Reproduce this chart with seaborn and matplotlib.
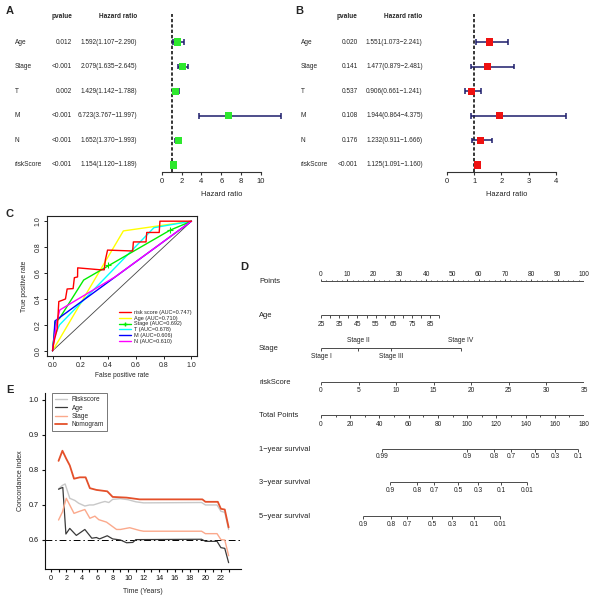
import numpy as np
import pandas as pd
import matplotlib
matplotlib.use("Agg")
import matplotlib.pyplot as plt
from matplotlib.lines import Line2D
from matplotlib.transforms import blended_transform_factory
import seaborn as sns

# ---------------- data ----------------
variables = ["Age", "Stage", "T", "M", "N", "riskScore"]

uni_pvalue = ["0.012", "<0.001", "0.002", "<0.001", "<0.001", "<0.001"]
uni_hr = [1.592, 2.079, 1.429, 6.723, 1.652, 1.154]
uni_low = [1.107, 1.635, 1.142, 3.767, 1.370, 1.120]
uni_high = [2.290, 2.645, 1.788, 11.997, 1.993, 1.189]
uni_ticks = [0, 2, 4, 6, 8, 10]

multi_pvalue = ["0.020", "0.141", "0.537", "0.108", "0.176", "<0.001"]
multi_hr = [1.551, 1.477, 0.906, 1.944, 1.232, 1.125]
multi_low = [1.073, 0.879, 0.661, 0.864, 0.911, 1.091]
multi_high = [2.241, 2.481, 1.241, 4.375, 1.666, 1.160]
multi_ticks = [0, 1, 2, 3, 4]

roc_names = ["risk score", "Age", "Stage", "T", "M", "N"]
roc_auc = ["0.747", "0.710", "0.692", "0.678", "0.606", "0.610"]
risk_fpr = [0, 0.01, 0.034, 0.045, 0.07, 0.093, 0.105, 0.148, 0.157, 0.18, 0.181,
            0.344, 0.372, 0.38, 0.396, 0.577, 0.582, 0.673, 0.678, 0.768, 0.773, 1.0]
risk_tpr = [0, 0.07, 0.17, 0.38, 0.39, 0.40, 0.477, 0.48, 0.564, 0.57, 0.64,
            0.625, 0.625, 0.70, 0.777, 0.77, 0.84, 0.84, 0.913, 0.913, 1.0, 1.0]
age_fpr = [0, 0.51, 1.0]
age_tpr = [0, 0.925, 1.0]
stage_fpr = [0, 0.02, 0.05, 0.224, 0.845, 1.0]
stage_tpr = [0, 0.22, 0.25, 0.546, 0.93, 1.0]
stage_mark_fpr = [0.40, 0.845]
stage_mark_tpr = [0.66, 0.93]
t_fpr = [0, 0.01, 0.05, 0.73, 1.0]
t_tpr = [0, 0.10, 0.20, 0.95, 1.0]
m_fpr = [0, 0.01, 0.017, 1.0]
m_tpr = [0, 0.10, 0.23, 1.0]
n_fpr = [0, 0.01, 0.03, 0.052, 0.45, 1.0]
n_tpr = [0, 0.08, 0.22, 0.315, 0.57, 1.0]

# nomogram
points_ticks = list(range(0, 101, 10))
age_ticks = [25, 35, 45, 55, 65, 75, 85]
age_range = [25, 90]
age_points_range = [0, 45]
stage_labels = ["Stage I", "Stage II", "Stage III", "Stage IV"]
stage_points = [0, 14.1, 26.6, 53.2]
risk_ticks = [0, 5, 10, 15, 20, 25, 30, 35]
risk_range = [0, 35]
risk_points_range = [0, 100]
total_ticks = list(range(0, 181, 20))
total_range = [0, 180]
surv1_labels = ["0.99", "0.9", "0.8", "0.7", "0.5", "0.3", "0.1"]
surv1_total = [41.7, 99.9, 118.4, 130.0, 146.5, 160.2, 175.9]
surv3_labels = ["0.9", "0.8", "0.7", "0.5", "0.3", "0.1", "0.01"]
surv3_total = [47.2, 65.7, 77.3, 93.8, 107.5, 123.2, 141.0]
surv5_labels = ["0.9", "0.8", "0.7", "0.5", "0.3", "0.1", "0.01"]
surv5_total = [28.7, 47.9, 58.9, 76.0, 89.7, 104.7, 122.5]

# C-index over time
nomo_t = [1.0, 1.5, 2.0, 2.45, 3.0, 3.75, 4.5, 5.05, 5.9, 7.3, 8.0, 9.8, 11.5, 19.6, 20.0, 21.6, 22.0, 22.5, 23.0]
nomo_c = [0.826, 0.855, 0.832, 0.813, 0.775, 0.779, 0.779, 0.748, 0.743, 0.739, 0.723, 0.721, 0.716, 0.716, 0.709, 0.709, 0.689, 0.687, 0.636]
risk_t = [1.0, 1.5, 1.85, 2.45, 3.1, 3.6, 4.4, 5.0, 5.5, 6.5, 7.0, 7.5, 8.0, 9.0, 10.0, 11.0, 12.0, 19.5, 20.0, 21.5, 22.0, 22.5, 23.0]
risk_c = [0.746, 0.756, 0.760, 0.719, 0.713, 0.705, 0.697, 0.700, 0.700, 0.707, 0.710, 0.707, 0.716, 0.718, 0.715, 0.709, 0.706, 0.707, 0.700, 0.700, 0.682, 0.679, 0.630]
agec_t = [1.0, 1.4, 1.55, 1.95, 2.45, 3.3, 4.4, 5.3, 5.9, 6.3, 7.3, 8.0, 9.0, 9.8, 10.6, 11.0, 19.5, 20.0, 21.5, 22.0, 22.5, 23.0]
agec_c = [0.745, 0.749, 0.750, 0.617, 0.633, 0.613, 0.630, 0.605, 0.607, 0.603, 0.612, 0.603, 0.600, 0.592, 0.593, 0.601, 0.602, 0.596, 0.596, 0.578, 0.576, 0.535]
stagec_t = [1.0, 1.5, 2.0, 3.0, 3.6, 4.4, 5.05, 5.7, 6.2, 7.2, 8.5, 9.0, 10.2, 11.5, 12.0, 19.5, 20.0, 21.5, 22.0, 22.5, 23.0]
stagec_c = [0.657, 0.680, 0.719, 0.676, 0.681, 0.687, 0.662, 0.668, 0.658, 0.651, 0.630, 0.630, 0.635, 0.627, 0.625, 0.625, 0.618, 0.618, 0.601, 0.600, 0.555]

# ---------------- figure ----------------
sns.set_theme(style="ticks")
plt.rcParams["font.family"] = ["Liberation Sans", "DejaVu Sans"]
plt.rcParams["axes.unicode_minus"] = True

W, H = 596, 600
fig = plt.figure(figsize=(W / 100, H / 100), dpi=100)
fig.patch.set_facecolor("white")


def ax_px(x0, y0, x1, y1):
    return fig.add_axes([x0 / W, 1 - y1 / H, (x1 - x0) / W, (y1 - y0) / H])


def ftext(x, y, s, **kw):
    fig.text(x / W, 1 - y / H, s, **kw)


# panel letters
for letter, (lx, ly) in zip("ABCDE", [(10, 11), (299, 11), (10, 214), (244, 267), (10, 390)]):
    ftext(lx, ly, letter, fontsize=8, fontweight="bold", ha="center", va="center")

# ---------------- forest plots ----------------
NAVY = "#1d1d6b"
ROW0, ROWSTEP = 42.0, 24.6
YTOP, YBOT = 14.0, 172.0
ylim_top = (YTOP - ROW0) / ROWSTEP
ylim_bot = (YBOT - ROW0) / ROWSTEP
HEAD = (16.5 - ROW0) / ROWSTEP
FFS = 4.7


def forest(x0, x1, xlim, ticks, hr, lo, hi, pvals, color, cols):
    ax = ax_px(x0, YTOP, x1, YBOT)
    df = pd.DataFrame({"var": variables, "row": np.arange(len(variables)),
                       "hr": hr, "lo": lo, "hi": hi})
    ax.axvline(1, color="black", ls=(0, (2.2, 1.3)), lw=1.1, zorder=1)
    ax.hlines(df["row"], df["lo"], df["hi"], color=NAVY, lw=1.1, zorder=2)
    ax.vlines(df["lo"], df["row"] - 0.11, df["row"] + 0.11, color=NAVY, lw=1.1, zorder=2)
    ax.vlines(df["hi"], df["row"] - 0.11, df["row"] + 0.11, color=NAVY, lw=1.1, zorder=2)
    sns.scatterplot(data=df, x="hr", y="row", marker="s", s=26, color=color,
                    edgecolor="none", linewidth=0, ax=ax, zorder=3, legend=False)
    ax.set_xlim(xlim)
    ax.set_ylim(ylim_bot, ylim_top)
    for s in ["top", "right", "left"]:
        ax.spines[s].set_visible(False)
    ax.spines["bottom"].set_bounds(ticks[0], ticks[-1])
    ax.spines["bottom"].set_color("#333333")
    ax.spines["bottom"].set_linewidth(0.8)
    ax.set_xticks(ticks)
    ax.set_xticklabels([str(t) for t in ticks])
    ax.tick_params(axis="x", length=2.5, width=0.8, pad=2, labelsize=5.5,
                   colors="#333333", labelcolor="#222222")
    ax.set_yticks([])
    ax.set_ylabel("")
    ax.set_xlabel("Hazard ratio", fontsize=5.4, labelpad=4.5, color="#222222")
    ax.patch.set_alpha(0)
    tr = blended_transform_factory(fig.transFigure, ax.transData)
    lab_x, p_x, hr_x, hp_x, hh_x = cols
    ax.text(hp_x / W, HEAD, "pvalue", transform=tr, ha="center", va="center",
            fontsize=FFS, fontweight="bold")
    ax.text(hh_x / W, HEAD, "Hazard ratio", transform=tr, ha="center", va="center",
            fontsize=FFS, fontweight="bold")
    for i, v in enumerate(variables):
        ax.text(lab_x / W, i, v, transform=tr, ha="left", va="center", fontsize=FFS)
        ax.text(p_x / W, i, pvals[i], transform=tr, ha="right", va="center", fontsize=FFS)
        ax.text(hr_x / W, i, f"{hr[i]:.3f}({lo[i]:.3f}\u2212{hi[i]:.3f})", transform=tr,
                ha="right", va="center", fontsize=FFS)
    return ax


forest(156.7, 285.8, (-0.5, 12.5), uni_ticks, uni_hr, uni_low, uni_high, uni_pvalue,
       "#2ee82e", (15, 72, 137, 61.5, 118))
forest(441.6, 572, (-0.2, 4.6), multi_ticks, multi_hr, multi_low, multi_high, multi_pvalue,
       "#ee1111", (300.7, 357.7, 422.7, 347, 403.4))

# ---------------- ROC ----------------
axc = ax_px(47, 216, 197, 356)
sns.lineplot(x=[0, 1], y=[0, 1], color="#444444", lw=0.6, ax=axc)
roc_data = [
    ("Age", age_fpr, age_tpr, "#ffff00"),
    ("T", t_fpr, t_tpr, "#00ffff"),
    ("Stage", stage_fpr, stage_tpr, "#00ee00"),
    ("M", m_fpr, m_tpr, "#0000ff"),
    ("N", n_fpr, n_tpr, "#ff00ff"),
    ("risk score", risk_fpr, risk_tpr, "#ff0000"),
]
roc_colors = {}
for name, fx_, fy_, col in roc_data:
    sns.lineplot(x=fx_, y=fy_, sort=False, estimator=None, color=col, lw=1.0, ax=axc)
    roc_colors[name] = col
sns.scatterplot(x=stage_mark_fpr, y=stage_mark_tpr, marker="+", s=14, color="#00ee00",
                linewidth=0.8, ax=axc, legend=False)
axc.set_xlim(-0.04, 1.04)
axc.set_ylim(-0.04, 1.04)
ticks = [0, 0.2, 0.4, 0.6, 0.8, 1.0]
axc.set_xticks(ticks)
axc.set_yticks(ticks)
axc.set_xticklabels([f"{t:.1f}" for t in ticks])
axc.set_yticklabels([f"{t:.1f}" for t in ticks], rotation=90, va="center")
axc.tick_params(length=2.5, width=0.7, pad=1.5, labelsize=5.0, colors="#222222")
for s in axc.spines.values():
    s.set_visible(True)
    s.set_linewidth(0.8)
    s.set_color("#222222")
axc.set_xlabel("False positive rate", fontsize=4.8, labelpad=2.5)
axc.set_ylabel("True positive rate", fontsize=4.8, labelpad=5)
handles = []
for name, auc in zip(roc_names, roc_auc):
    mk = "+" if name == "Stage" else None
    handles.append(Line2D([0], [0], color=roc_colors[name], lw=1.0, marker=mk, markersize=3,
                          label=f"{name} (AUC={auc})"))
axc.legend(handles=handles, loc="upper left", bbox_to_anchor=(0.48, 0.33), frameon=False,
           fontsize=4.0, handlelength=2.2, handletextpad=0.5, labelspacing=0.15,
           borderpad=0, borderaxespad=0)

# ---------------- nomogram ----------------
axd = ax_px(321, 255, 584, 535)
axd.set_xlim(0, 100)
axd.set_ylim(535, 255)
axd.axis("off")
LC = "#4a4a4a"
LW = 0.7
TFS = 4.8


def lin(v, src, dst):
    return dst[0] + (np.asarray(v, dtype=float) - src[0]) * (dst[1] - dst[0]) / (src[1] - src[0])


def nrow(y, xs, labels, label_dy, tick_dir=1, tick_len=2.5, label_xs=None, extra_ticks=None,
         extra_len=1.3, dys=None):
    xs = np.asarray(xs, dtype=float)
    allx = xs if extra_ticks is None else np.concatenate([xs, extra_ticks])
    axd.hlines(y, allx.min(), allx.max(), color=LC, lw=LW)
    axd.vlines(xs, y, y + tick_dir * tick_len, color=LC, lw=LW)
    if extra_ticks is not None:
        axd.vlines(extra_ticks, y, y + tick_dir * extra_len, color=LC, lw=LW)
    lx = xs if label_xs is None else label_xs
    for i, (x, lab) in enumerate(zip(lx, labels)):
        dy = label_dy if dys is None else dys[i]
        axd.text(x, y + dy, lab, ha="center", va="center", fontsize=TFS, color="#222222")


row_names = ["Points", "Age", "Stage", "riskScore", "Total Points",
             "1\u2212year survival", "3\u2212year survival", "5\u2212year survival"]
row_y = [281, 315, 348, 382, 415, 449, 482, 516]
for nm, yy in zip(row_names, row_y):
    ftext(259, yy + 0.5, nm, fontsize=5.4, ha="left", va="center", color="#222222")

# Points
nrow(281, points_ticks, [str(v) for v in points_ticks], -7, tick_dir=-1, tick_len=2.5,
     extra_ticks=np.arange(0, 101, 2), extra_len=1.3)
# Age
age_all = np.arange(age_range[0], age_range[1] + 1, 5)
age_x = lin(age_all, age_range, age_points_range)
axd.hlines(315, age_x.min(), age_x.max(), color=LC, lw=LW)
axd.vlines(age_x, 315, 317.5, color=LC, lw=LW)
for a in age_ticks:
    axd.text(lin(a, age_range, age_points_range), 325, str(a), ha="center", va="center",
             fontsize=TFS, color="#222222")
# Stage
nrow(348, stage_points, stage_labels, 9, dys=[9, -7, 9, -7])
# riskScore
nrow(382, lin(risk_ticks, risk_range, risk_points_range), [str(v) for v in risk_ticks], 9)
# Total points
tot_x = lin(total_ticks, total_range, [0, 100])
nrow(415, tot_x, [str(v) for v in total_ticks], 10,
     extra_ticks=lin(np.arange(0, 181, 10), total_range, [0, 100]), extra_len=1.5)
# survival rows
nrow(449, lin(surv1_total, total_range, [0, 100]), surv1_labels, 8)
nrow(482, lin(surv3_total, total_range, [0, 100]), surv3_labels, 8)
nrow(516, lin(surv5_total, total_range, [0, 100]), surv5_labels, 8)

# ---------------- C-index over time ----------------
axe = ax_px(44.8, 393, 241, 569)
series = [
    ("Riskscore", risk_t, risk_c, "#c8c8c8", 1.0),
    ("Age", agec_t, agec_c, "#3a3a3a", 0.9),
    ("Stage", stagec_t, stagec_c, "#fba98c", 1.0),
    ("Nomogram", nomo_t, nomo_c, "#e4502a", 1.3),
]
for name, tt, cc, col, lw in series:
    sns.lineplot(x=tt, y=cc, sort=False, estimator=None, color=col, lw=lw, ax=axe, label=name)
axe.axhline(0.6, color="black", ls=(0, (7, 3, 1.5, 3)), lw=0.7, zorder=0)
axe.set_xlim(-0.78, 24.6)
axe.set_ylim(0.517, 1.02)
axe.set_xticks(range(0, 23, 2))
axe.set_xticks(range(0, 24, 1), minor=True)
axe.set_yticks([0.6, 0.7, 0.8, 0.9, 1.0])
axe.set_yticklabels(["0.6", "0.7", "0.8", "0.9", "1.0"])
axe.tick_params(which="both", length=2.5, width=0.8, pad=1.8, labelsize=5.2, colors="#111111")
for s in ["top", "right"]:
    axe.spines[s].set_visible(False)
for s in ["left", "bottom"]:
    axe.spines[s].set_linewidth(0.8)
    axe.spines[s].set_color("#111111")
axe.set_xlabel("Time (Years)", fontsize=5.0, labelpad=4)
axe.set_ylabel("Concordance index", fontsize=5.0, labelpad=3.5)
leg = axe.legend(loc="upper left", bbox_to_anchor=(0.037, 1.0), fontsize=4.7, frameon=True,
                 fancybox=False, edgecolor="#555555", handlelength=1.8, handletextpad=0.7,
                 labelspacing=0.2, borderpad=0.5, borderaxespad=0)
leg.get_frame().set_linewidth(0.7)

fig.savefig("out.png", dpi=100, facecolor="white")
